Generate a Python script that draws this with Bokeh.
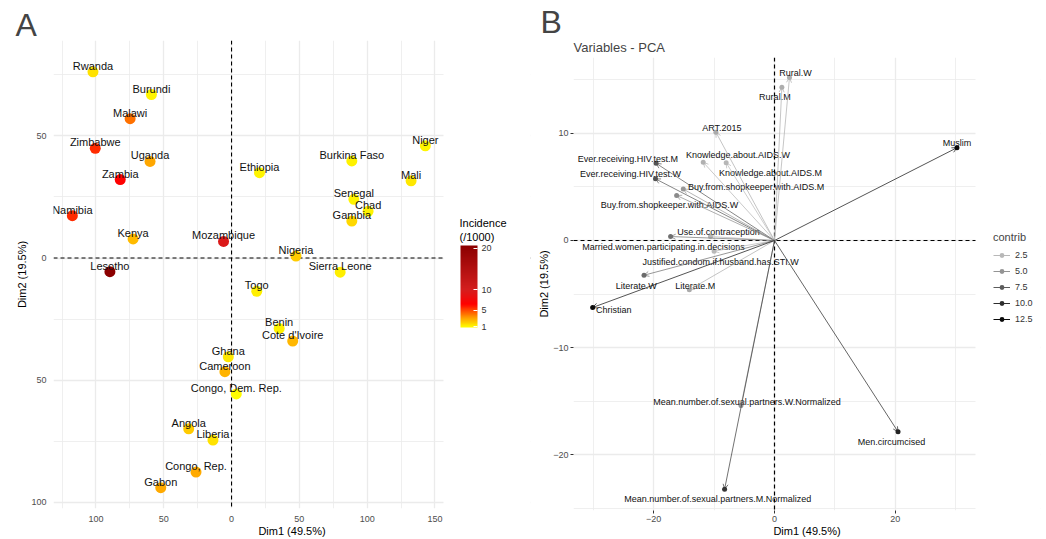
import numpy as np
from bokeh.plotting import figure
from bokeh.models import (ColumnDataSource, LinearColorMapper, ColorBar, FixedTicker,
                          Span, Title, Arrow, OpenHead, Legend, LegendItem, Range1d, Label,
                          BoxAnnotation)
from bokeh.transform import transform
from bokeh.embed import file_html
from bokeh.resources import INLINE
from bokeh.core.properties import value

# ---------------- data: panel A (individuals) ----------------
countries = ["Rwanda", "Burundi", "Malawi", "Zimbabwe", "Uganda", "Zambia", "Namibia",
             "Kenya", "Mozambique", "Ethiopia", "Burkina Faso", "Niger", "Mali", "Senegal",
             "Chad", "Gambia", "Nigeria", "Lesotho", "Sierra Leone", "Togo", "Benin",
             "Cote d'Ivoire", "Ghana", "Cameroon", "Congo, Dem. Rep.", "Angola", "Liberia",
             "Congo, Rep.", "Gabon"]
dim1 = [-102.2, -59.1, -74.8, -100.5, -60.1, -82.1, -117.4,
        -72.6, -5.9, 20.6, 88.7, 142.9, 132.4, 90.2,
        100.7, 88.7, 47.5, -89.7, 80.1, 18.6, 35.1,
        45.1, -2.4, -4.9, 3.5, -31.6, -13.7,
        -26.2, -52.2]
dim2 = [76.2, 66.9, 57.0, 44.9, 39.5, 32.1, 17.3,
        7.8, 6.8, 34.9, 39.7, 45.9, 31.6, 24.0,
        19.1, 15.1, 0.8, -5.6, -5.8, -13.6, -28.8,
        -34.0, -40.4, -46.5, -55.6, -69.9, -74.5,
        -87.6, -94.0]
incidence = [1.6, 1.1, 4.1, 5.6, 3.0, 6.6, 5.6,
             2.5, 9.5, 1.1, 1.2, 1.1, 1.4, 1.1,
             1.2, 1.8, 2.1, 20.6, 1.3, 1.3, 1.2,
             2.6, 1.4, 2.7, 1.0, 2.1, 1.6,
             2.9, 2.9]
a_xticks = [-100, -50, 0, 50, 100, 150]
a_xlabels = ["100", "50", "0", "50", "100", "150"]
a_yticks = [-100, -50, 0, 50]
a_ylabels = ["100", "50", "0", "50"]
cb_ticks = [1, 5, 10, 20]

# ---------------- data: panel B (variables) ----------------
variables = ["Rural.W", "Rural.M", "ART.2015", "Muslim", "Ever.receiving.HIV.test.M",
             "Knowledge.about.AIDS.W", "Knowledge.about.AIDS.M", "Ever.receiving.HIV.test.W",
             "Buy.from.shopkeeper.with.AIDS.M", "Buy.from.shopkeeper.with.AIDS.W",
             "Use.of.contraception", "Married.women.participating.in.decisions",
             "Justified.condom.if.husband.has.STI.W", "Literate.W", "Literate.M", "Christian",
             "Mean.number.of.sexual.partners.W.Normalized", "Men.circumcised",
             "Mean.number.of.sexual.partners.M.Normalized"]
var_dim1 = [2.48, 1.22, -9.7, 30.2, -19.6, -11.8, -8.0, -19.7, -15.1, -16.2,
            -10.6, -17.2, -10.0, -21.6, -14.1, -30.1, -5.55, 20.45, -8.26]
var_dim2 = [15.2, 14.3, 10.1, 8.65, 7.2, 7.3, 7.25, 5.75, 4.8, 4.2,
            0.37, 0.37, -1.0, -3.24, -4.6, -6.25, -15.4, -17.85, -23.2]
contrib = [3.2, 3.2, 3.4, 13.2, 8.0, 3.0, 2.6, 8.0, 4.8, 5.4,
           2.6, 6.6, 2.5, 6.8, 3.4, 13.0, 4.8, 10.8, 9.6]
contrib_levels = [2.5, 5.0, 7.5, 10.0, 12.5]
b_xticks = [-20, 0, 20]
b_xlabels = ["\u221220", "0", "20"]
b_yticks = [-20, -10, 0, 10]
b_ylabels = ["\u221220", "\u221210", "0", "10"]

FONT = "Liberation Sans"


def interp_colors(stops, vals):
    sv = [s[0] for s in stops]
    rgb = np.array([[int(s[1][i:i + 2], 16) for i in (1, 3, 5)] for s in stops], float)
    out = []
    for v in vals:
        r, g, b = (np.interp(v, sv, rgb[:, k]) for k in range(3))
        out.append("#%02x%02x%02x" % (int(round(r)), int(round(g)), int(round(b))))
    return out


inc_lo, inc_hi = 0.85, 20.65
inc_stops = [(0.85, "#FFFF00"), (3.0, "#FFA500"), (6.5, "#FF0000"), (10.0, "#D41E1E"), (20.65, "#8B0000")]
inc_palette = interp_colors(inc_stops, np.linspace(inc_lo, inc_hi, 256))
inc_mapper = LinearColorMapper(palette=inc_palette, low=inc_lo, high=inc_hi)

gray_stops = [(2.5, "#B8B8B8"), (5.0, "#949494"), (7.5, "#5C5C5C"), (10.0, "#2E2E2E"), (12.5, "#0A0A0A")]


def style_axes(p, ticks_on):
    for ax in (p.xaxis[0], p.yaxis[0]):
        ax.axis_line_color = None
        ax.minor_tick_line_color = None
        ax.major_label_text_font = FONT
        ax.major_label_text_font_size = "9px"
        ax.major_label_text_color = "#4d4d4d"
        ax.axis_label_text_font = FONT
        ax.axis_label_text_font_size = "11px"
        ax.axis_label_text_font_style = "normal"
        ax.axis_label_text_color = "black"
        if ticks_on:
            ax.major_tick_line_color = "#333333"
            ax.major_tick_out = 3
            ax.major_tick_in = 0
            ax.major_label_standoff = 1
        else:
            ax.major_tick_line_color = None
            ax.major_tick_out = 0
            ax.major_tick_in = 0
            ax.major_label_standoff = 3
        ax.axis_label_standoff = 0
    for g in (p.xgrid[0], p.ygrid[0]):
        g.grid_line_color = "#ebebeb"
        g.grid_line_width = 1.3
        g.minor_grid_line_color = "#ebebeb"
        g.minor_grid_line_width = 0.8


def add_zero_lines(p, width):
    for dim in ("height", "width"):
        sp = Span(location=0, dimension=dim, line_color="black", line_width=width, line_dash="4 3")
        sp.level = "underlay"
        p.add_layout(sp)


def cover_right(p, x_edge):
    box = BoxAnnotation(left=x_edge, fill_color="white", fill_alpha=1.0, line_color=None)
    box.level = "underlay"
    p.add_layout(box)


# ---------------- panel A ----------------
A_W, A_H = 535, 539
A_L, A_R, A_T, A_B = 53, 5, 40, 31
a_x0, a_x1 = -131.3, 156.3          # extent of the data panel
a_frame_w = A_W - A_L - A_R
a_frame_h = A_H - A_T - A_B
a_xpx = (a_x1 - a_x0) / 390.0       # data units per pixel of the data panel
pa = figure(width=A_W, height=A_H,
            x_range=Range1d(a_x0, a_x0 + a_frame_w * a_xpx), y_range=Range1d(-102.5, 89.0),
            output_backend="svg", toolbar_location=None,
            min_border_left=A_L, min_border_right=A_R, min_border_top=A_T, min_border_bottom=A_B,
            x_axis_label="Dim1 (49.5%)", y_axis_label="Dim2 (19.5%)")
pa.outline_line_color = None
pa.title.text = "A"
pa.title.text_font = FONT
pa.title.text_font_size = "32px"
pa.title.text_font_style = "normal"
pa.title.align = "left"
pa.title.offset = -38
pa.title.standoff = -4

pa.xaxis.ticker = FixedTicker(ticks=a_xticks, minor_ticks=[t + 25 for t in [-150] + a_xticks[:-1]])
pa.yaxis.ticker = FixedTicker(ticks=a_yticks, minor_ticks=[t + 25 for t in [-150] + a_yticks])
pa.xaxis.major_label_overrides = dict(zip(a_xticks, a_xlabels))
pa.yaxis.major_label_overrides = dict(zip(a_yticks, a_ylabels))
pa.xaxis.bounds = (a_x0, a_x1)
style_axes(pa, False)
add_zero_lines(pa, 1.1)
cover_right(pa, a_x1)

src_a = ColumnDataSource(dict(x=dim1, y=dim2, name=countries, inc=incidence))
pa.scatter("x", "y", source=src_a, size=11, line_color=None,
           fill_color=transform("inc", inc_mapper))
pa.text("x", "y", text="name", source=src_a, text_align="center", text_baseline="alphabetic",
        y_offset=-6, text_font=value(FONT), text_font_size="11px", text_color="#111111")

cbar = ColorBar(color_mapper=inc_mapper, ticker=FixedTicker(ticks=cb_ticks),
                width=17, height=82,
                major_label_text_font=FONT, major_label_text_font_size="9px",
                major_label_text_color="#333333",
                major_tick_line_color="white", major_tick_in=4, major_tick_out=0,
                minor_tick_line_color=None, bar_line_color=None, border_line_color=None,
                background_fill_alpha=0, padding=0, margin=0,
                location=(407, a_frame_h - (327 - A_T)), label_standoff=4)
pa.add_layout(cbar)
pa.add_layout(Label(x=406, y=a_frame_h - (216 - A_T), x_units="screen", y_units="screen",
                    text="Incidence\n(/1000)", text_font=FONT, text_font_size="11px",
                    text_baseline="top", text_align="left", text_color="black"))

# ---------------- panel B ----------------
B_W, B_H = 511, 539
B_L, B_R, B_T, B_B = 38, 6, 57, 29
b_x0, b_x1 = -33.27, 33.27
b_frame_w = B_W - B_L - B_R
b_frame_h = B_H - B_T - B_B
b_xpx = (b_x1 - b_x0) / 402.0
b_y1 = 17.07
b_y0 = b_y1 - b_frame_h / 10.72
pb = figure(width=B_W, height=B_H,
            x_range=Range1d(b_x0, b_x0 + b_frame_w * b_xpx), y_range=Range1d(b_y0, b_y1),
            output_backend="svg", toolbar_location=None,
            min_border_left=B_L, min_border_right=B_R, min_border_top=B_T, min_border_bottom=B_B,
            x_axis_label="Dim1 (49.5%)", y_axis_label="Dim2 (19.5%)")
pb.outline_line_color = None
pb.title.text = "B"
pb.title.text_font = FONT
pb.title.text_font_size = "32px"
pb.title.text_font_style = "normal"
pb.title.align = "left"
pb.title.offset = -33
pb.title.standoff = -8
pb.add_layout(Title(text="Variables - PCA", text_font=FONT, text_font_size="13px",
                    text_font_style="normal", align="left", offset=0, standoff=5), "above")

pb.xaxis.ticker = FixedTicker(ticks=b_xticks, minor_ticks=[-30, -10, 10, 30])
pb.yaxis.ticker = FixedTicker(ticks=b_yticks, minor_ticks=[-25, -15, -5, 5, 15])
pb.xaxis.major_label_overrides = dict(zip(b_xticks, b_xlabels))
pb.yaxis.major_label_overrides = dict(zip(b_yticks, b_ylabels))
pb.xaxis.bounds = (b_x0, b_x1)
style_axes(pb, True)
add_zero_lines(pb, 1.2)
cover_right(pb, b_x1)

var_colors = interp_colors(gray_stops, contrib)
for xe, ye, c in zip(var_dim1, var_dim2, var_colors):
    pb.add_layout(Arrow(end=OpenHead(size=5, line_color=c, line_width=0.7),
                        x_start=0, y_start=0, x_end=xe, y_end=ye,
                        line_color=c, line_width=0.7))

dx = [6, -7, 6, 0, -28.3, 34.8, 44.3, -25, 72.8, -7.1, 8, -7, 6.5, -7.7, 6, 21, 6, -6.5, -6.8]
dy = [-5, 10, -4, -4.6, -4.4, -7.4, 10, -4.6, -1.7, 10, -5, 10.7, 11, 10.6, -4, 3, -3.6, 10.4, 10.3]
src_b = ColumnDataSource(dict(x=var_dim1, y=var_dim2, name=variables, col=var_colors, dx=dx, dy=dy))
pb.scatter("x", "y", source=src_b, size=5, line_color=None, fill_color="col")
pb.text("x", "y", text="name", source=src_b, x_offset="dx", y_offset="dy",
        text_align="center", text_baseline="alphabetic",
        text_font=value(FONT), text_font_size="9px", text_color="#111111")

items = []
for lv, c in zip(contrib_levels, interp_colors(gray_stops, contrib_levels)):
    proxy = ColumnDataSource(dict(x=[np.nan, np.nan], y=[np.nan, np.nan]))
    r1 = pb.line("x", "y", source=proxy, line_color=c, line_width=1)
    r2 = pb.scatter("x", "y", source=proxy, size=5, fill_color=c, line_color=None)
    items.append(LegendItem(label="%.1f" % lv, renderers=[r1, r2]))
leg = Legend(items=items, title="contrib", title_text_font=FONT, title_text_font_size="11px",
             title_text_font_style="normal", label_text_font=FONT, label_text_font_size="9px",
             label_text_color="#333333", glyph_width=17, glyph_height=12, label_height=12,
             spacing=4, padding=0, margin=0, title_standoff=6, label_standoff=5,
             border_line_color=None, background_fill_alpha=0,
             location=(420, b_frame_h - (325 - B_T)))
pb.add_layout(leg)

template = """
{% block contents %}
<div style="display:flex;flex-direction:row;align-items:flex-start;">
{{ super() }}
</div>
{% endblock %}
"""
open("out.html", "w").write(file_html([pa, pb], INLINE, template=template))
